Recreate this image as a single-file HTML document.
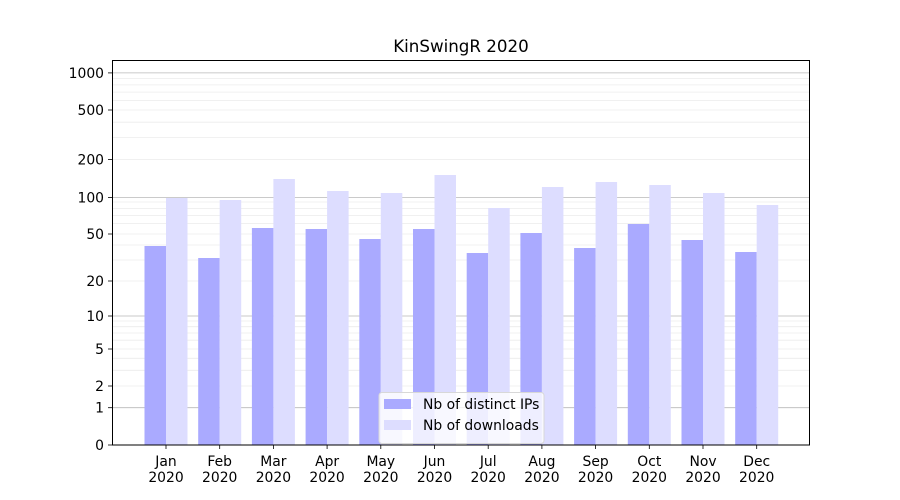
<!DOCTYPE html><html><head><style>body{margin:0;background:#fff}svg{display:block}text{font-family:"DejaVu Sans","Liberation Sans",sans-serif;font-size:13.9px;fill:#000}</style></head><body>
<svg width="900" height="500" xmlns="http://www.w3.org/2000/svg">
<rect width="900" height="500" fill="#fff"/>
<g stroke="#ececec" stroke-width="0.8">
<line x1="112" x2="810" y1="370.3" y2="370.3"/><line x1="112" x2="810" y1="358.3" y2="358.3"/><line x1="112" x2="810" y1="340.2" y2="340.2"/><line x1="112" x2="810" y1="333" y2="333"/><line x1="112" x2="810" y1="326.7" y2="326.7"/><line x1="112" x2="810" y1="321" y2="321"/>
<line x1="112" x2="810" y1="260" y2="260"/><line x1="112" x2="810" y1="245" y2="245"/><line x1="112" x2="810" y1="223.6" y2="223.6"/><line x1="112" x2="810" y1="215.4" y2="215.4"/><line x1="112" x2="810" y1="208.4" y2="208.4"/><line x1="112" x2="810" y1="202" y2="202"/>
<line x1="112" x2="810" y1="137.5" y2="137.5"/><line x1="112" x2="810" y1="122.2" y2="122.2"/><line x1="112" x2="810" y1="100.4" y2="100.4"/><line x1="112" x2="810" y1="92.1" y2="92.1"/><line x1="112" x2="810" y1="84.9" y2="84.9"/><line x1="112" x2="810" y1="78.6" y2="78.6"/>
<line x1="112" x2="810" y1="386" y2="386"/><line x1="112" x2="810" y1="349" y2="349"/><line x1="112" x2="810" y1="281" y2="281"/><line x1="112" x2="810" y1="234" y2="234"/><line x1="112" x2="810" y1="159.4" y2="159.4"/><line x1="112" x2="810" y1="110" y2="110"/>
</g>
<g stroke="#b8b8b8" stroke-width="0.8">
<line x1="112" x2="810" y1="407.7" y2="407.7"/><line x1="112" x2="810" y1="316" y2="316"/><line x1="112" x2="810" y1="197.5" y2="197.5"/><line x1="112" x2="810" y1="72.9" y2="72.9"/>
</g>
<g fill="#aaaaff">
<rect x="144.5" y="246" width="21.5" height="199"/><rect x="198.2" y="258" width="21.5" height="187"/><rect x="251.9" y="228" width="21.5" height="217"/><rect x="305.6" y="229" width="21.5" height="216"/><rect x="359.3" y="239" width="21.5" height="206"/><rect x="413" y="229" width="21.5" height="216"/><rect x="466.7" y="253" width="21.5" height="192"/><rect x="520.4" y="233" width="21.5" height="212"/><rect x="574.1" y="248" width="21.5" height="197"/><rect x="627.8" y="224" width="21.5" height="221"/><rect x="681.5" y="240" width="21.5" height="205"/><rect x="735.2" y="252" width="21.5" height="193"/>
</g>
<g fill="#ddddff">
<rect x="166" y="198" width="21.5" height="247"/><rect x="219.7" y="200" width="21.5" height="245"/><rect x="273.4" y="179" width="21.5" height="266"/><rect x="327.1" y="191" width="21.5" height="254"/><rect x="380.8" y="193" width="21.5" height="252"/><rect x="434.5" y="175" width="21.5" height="270"/><rect x="488.2" y="208" width="21.5" height="237"/><rect x="541.9" y="187" width="21.5" height="258"/><rect x="595.6" y="182" width="21.5" height="263"/><rect x="649.3" y="185" width="21.5" height="260"/><rect x="703" y="193" width="21.5" height="252"/><rect x="756.7" y="205" width="21.5" height="240"/>
</g>
<rect x="112.5" y="60.5" width="697" height="384.5" fill="none" stroke="#000" stroke-width="1"/>
<g stroke="#000" stroke-width="0.8">
<line x1="108" x2="112" y1="445" y2="445"/><line x1="108" x2="112" y1="407.7" y2="407.7"/><line x1="108" x2="112" y1="386" y2="386"/><line x1="108" x2="112" y1="349" y2="349"/><line x1="108" x2="112" y1="316" y2="316"/><line x1="108" x2="112" y1="281" y2="281"/><line x1="108" x2="112" y1="234" y2="234"/><line x1="108" x2="112" y1="197.5" y2="197.5"/><line x1="108" x2="112" y1="159.4" y2="159.4"/><line x1="108" x2="112" y1="110" y2="110"/><line x1="108" x2="112" y1="72.9" y2="72.9"/>
<line x1="166" x2="166" y1="445" y2="449"/><line x1="219.7" x2="219.7" y1="445" y2="449"/><line x1="273.4" x2="273.4" y1="445" y2="449"/><line x1="327.1" x2="327.1" y1="445" y2="449"/><line x1="380.8" x2="380.8" y1="445" y2="449"/><line x1="434.5" x2="434.5" y1="445" y2="449"/><line x1="488.2" x2="488.2" y1="445" y2="449"/><line x1="541.9" x2="541.9" y1="445" y2="449"/><line x1="595.6" x2="595.6" y1="445" y2="449"/><line x1="649.3" x2="649.3" y1="445" y2="449"/><line x1="703" x2="703" y1="445" y2="449"/><line x1="756.7" x2="756.7" y1="445" y2="449"/>
</g>
<g text-anchor="end">
<text x="104" y="450">0</text><text x="104" y="412.7">1</text><text x="104" y="391">2</text><text x="104" y="354">5</text><text x="104" y="321">10</text><text x="104" y="286">20</text><text x="104" y="239">50</text><text x="104" y="202.5">100</text><text x="104" y="164.4">200</text><text x="104" y="115">500</text><text x="104" y="77.9">1000</text>
</g>
<g text-anchor="middle">
<text x="166" y="466">Jan</text><text x="166" y="482">2020</text>
<text x="219.7" y="466">Feb</text><text x="219.7" y="482">2020</text>
<text x="273.4" y="466">Mar</text><text x="273.4" y="482">2020</text>
<text x="327.1" y="466">Apr</text><text x="327.1" y="482">2020</text>
<text x="380.8" y="466">May</text><text x="380.8" y="482">2020</text>
<text x="434.5" y="466">Jun</text><text x="434.5" y="482">2020</text>
<text x="488.2" y="466">Jul</text><text x="488.2" y="482">2020</text>
<text x="541.9" y="466">Aug</text><text x="541.9" y="482">2020</text>
<text x="595.6" y="466">Sep</text><text x="595.6" y="482">2020</text>
<text x="649.3" y="466">Oct</text><text x="649.3" y="482">2020</text>
<text x="703" y="466">Nov</text><text x="703" y="482">2020</text>
<text x="756.7" y="466">Dec</text><text x="756.7" y="482">2020</text>
<text x="461" y="52" style="font-size:16.7px">KinSwingR 2020</text>
</g>
<rect x="379" y="392.5" width="165" height="51" rx="3" fill="#fff" fill-opacity="0.8" stroke="#d8d8d8"/>
<rect x="384" y="399" width="27" height="10" fill="#aaaaff"/>
<rect x="384" y="420" width="27" height="10" fill="#ddddff"/>
<text x="423" y="409">Nb of distinct IPs</text>
<text x="423" y="430">Nb of downloads</text>
</svg>
</body></html>
